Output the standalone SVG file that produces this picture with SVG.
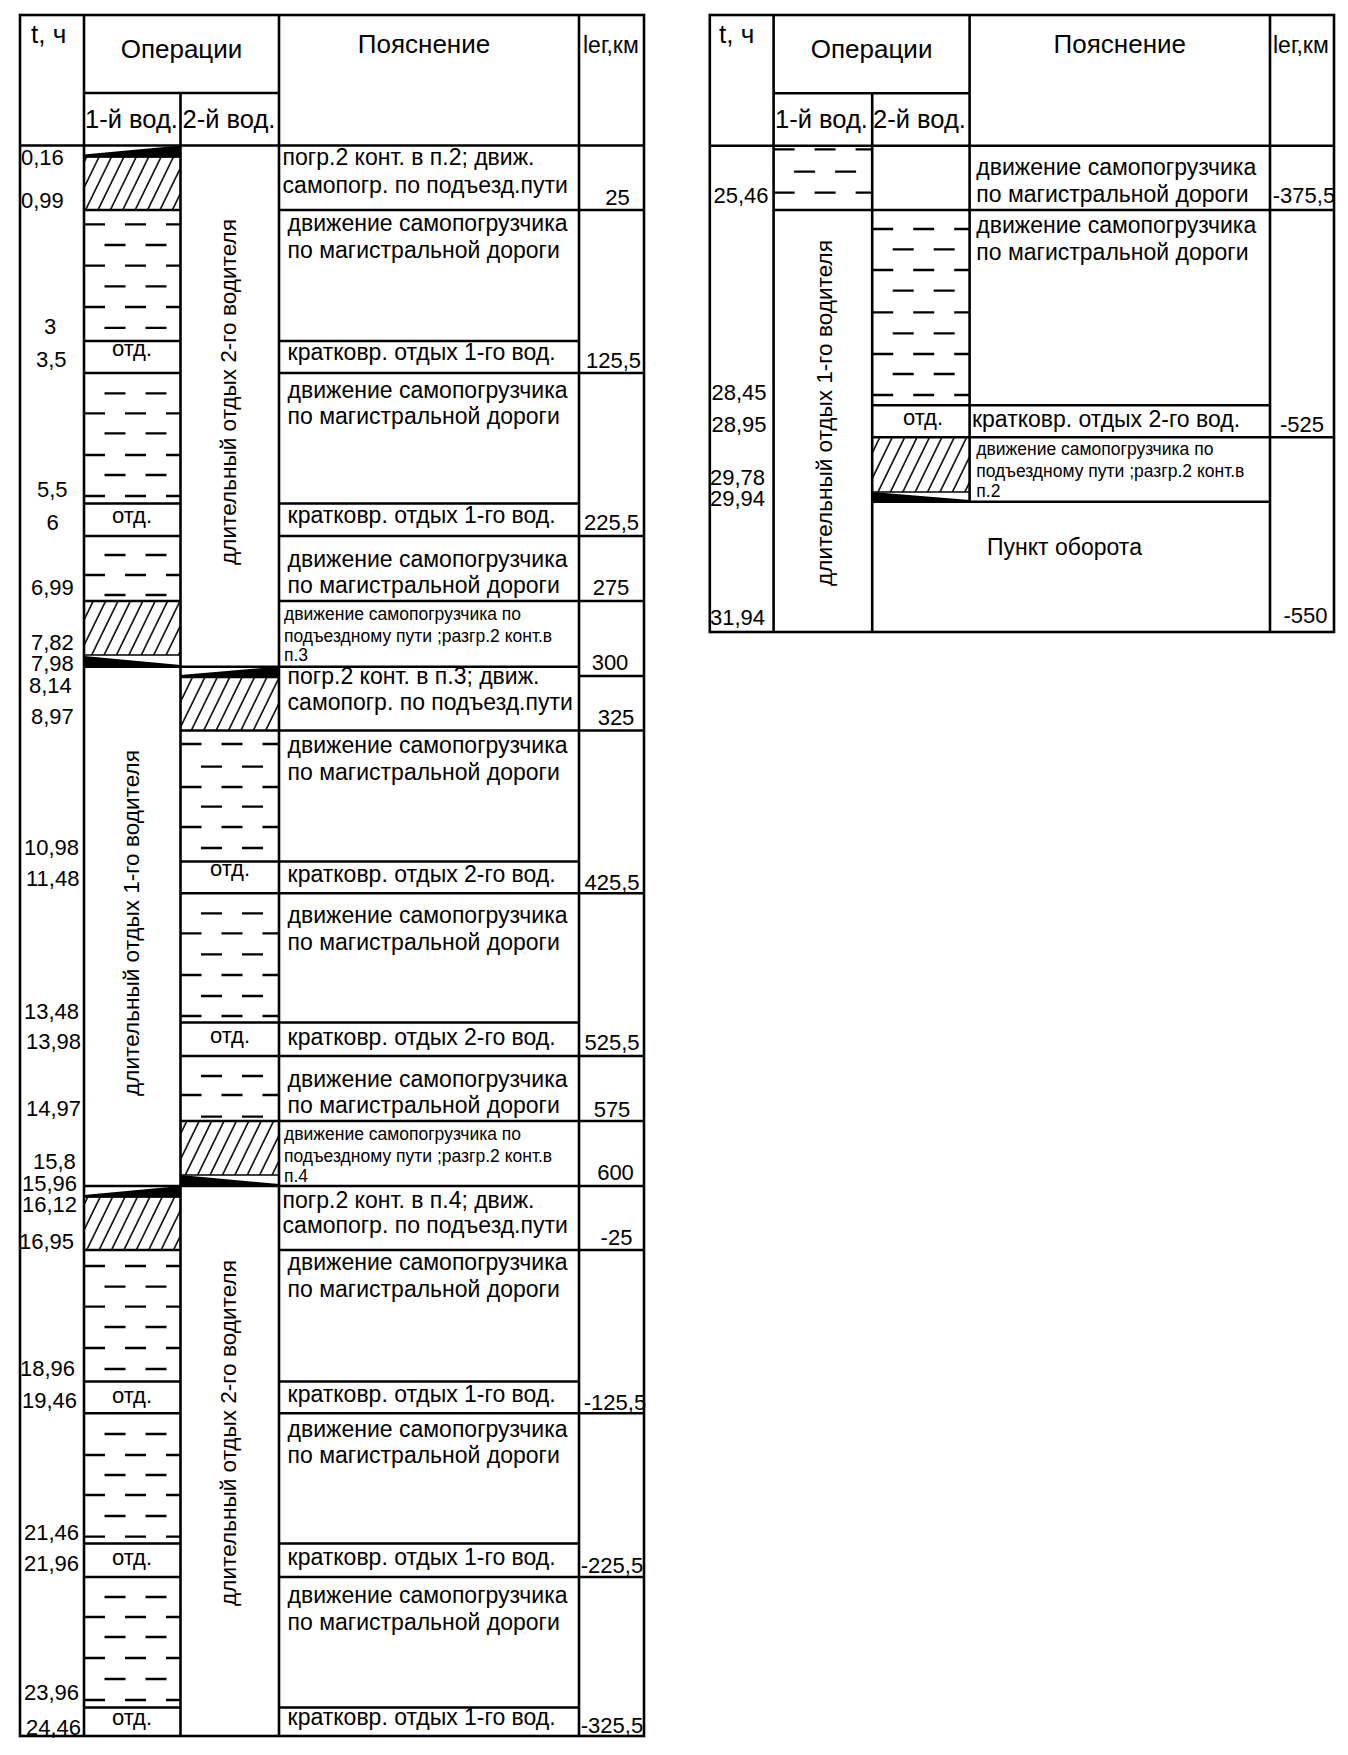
<svg xmlns="http://www.w3.org/2000/svg" width="1348" height="1755" viewBox="0 0 1348 1755">
<style>
.ln{stroke:#000;stroke-width:2.6;fill:none}
.th{stroke:#000;stroke-width:1.6;fill:none}
.dA{stroke:#000;stroke-width:2.3;stroke-dasharray:21 20}
.dB{stroke:#000;stroke-width:2.3;stroke-dasharray:21 20;stroke-dashoffset:20.5}
.t{font-family:"Liberation Sans",Arial,sans-serif;fill:#000}
.hd{font-size:26px}
.hs{font-size:25.5px}
.e{font-size:23px}
.s{font-size:17.5px}
.n{font-size:22px}
.k{font-size:22px;text-anchor:middle}
.m{text-anchor:middle}
.rot{font-size:22.6px;text-anchor:middle}
.hatch{fill:url(#hatch)}
.wedge{fill:#000}
</style>
<defs>
<pattern id="hatch" patternUnits="userSpaceOnUse" width="12.4" height="20" patternTransform="skewX(-26)">
<line x1="2" y1="-1" x2="2" y2="21" stroke="#000" stroke-width="1.7"/>
</pattern>
</defs>
<rect width="1348" height="1755" fill="#fff"/>

<g id="left-table">
<g id="left-grid">
<rect x="20" y="15" width="624" height="1721" class="ln"/>
<path class="ln" d="M84 15V1736 M180.5 93V1736 M279 15V1736 M579 15V1736 M84 93H279 M20 145.5H644"/>
<path class="ln" d="M84 210H180.5 M279 210H644 M84 341H180.5 M279 341H579 M84 373H180.5 M279 373H644 M84 503.5H180.5 M279 503.5H579 M84 536H180.5 M279 536H644 M84 601H180.5 M279 601H644 M84 666.7H579 M180.5 677H279 M579 676H644 M180.5 730.5H644 M180.5 861.5H579 M180.5 893.3H644 M180.5 1022.5H579 M180.5 1056H644 M180.5 1121H644 M84 1186H644 M84 1250H180.5 M279 1250H644 M84 1381.5H180.5 M279 1381.5H579 M84 1413.3H180.5 M279 1413.3H644 M84 1543.5H180.5 M279 1543.5H579 M84 1577H180.5 M279 1577H644 M84 1707.5H180.5 M279 1707.5H579"/>
<path class="th" d="M84 157H180.5 M84 655H180.5 M180.5 1175H279 M84 1197H180.5"/>
</g>
<g id="left-hatch">
<rect x="84" y="157" width="96.5" height="53" class="hatch"/>
<rect x="84" y="601" width="96.5" height="54" class="hatch"/>
<rect x="180.5" y="677" width="98.5" height="53.5" class="hatch"/>
<rect x="180.5" y="1121" width="98.5" height="54" class="hatch"/>
<rect x="84" y="1197" width="96.5" height="53" class="hatch"/>
</g>
<g id="left-wedges">
<polygon class="wedge" points="84,154.5 180.5,145.5 180.5,157.5 84,157.5"/>
<polygon class="wedge" points="84,656 180.5,665 180.5,667 84,667"/>
<polygon class="wedge" points="180.5,675 279,666.5 279,677.5 180.5,677.5"/>
<polygon class="wedge" points="180.5,1175 279,1184 279,1186 180.5,1186"/>
<polygon class="wedge" points="84,1195 180.5,1186 180.5,1197.5 84,1197.5"/>
</g>
<g id="left-dashes">
<path class="dA" d="M84 224.3H180.5 M84 265.7H180.5 M84 307H180.5 M84 413.3H180.5 M84 455H180.5 M84 496H180.5 M84 575H180.5 M84 1266H180.5 M84 1306.7H180.5 M84 1348H180.5 M84 1455H180.5 M84 1495H180.5 M84 1536.7H180.5 M84 1617H180.5 M84 1658H180.5 M84 1700H180.5"/>
<path class="dB" d="M84 245H180.5 M84 286.4H180.5 M84 327.8H180.5 M84 393.3H180.5 M84 433.3H180.5 M84 475H180.5 M84 555H180.5 M84 595H180.5 M84 1286.7H180.5 M84 1327H180.5 M84 1369H180.5 M84 1434H180.5 M84 1475H180.5 M84 1516H180.5 M84 1597H180.5 M84 1637H180.5 M84 1679H180.5"/>
<path class="dA" d="M180.5 744H279 M180.5 787H279 M180.5 827H279 M180.5 933.3H279 M180.5 975H279 M180.5 1016H279 M180.5 1095H279"/>
<path class="dB" d="M180.5 766.7H279 M180.5 806.7H279 M180.5 848H279 M180.5 913.3H279 M180.5 954.3H279 M180.5 996H279 M180.5 1076H279 M180.5 1116.7H279"/>
</g>
<g id="left-header" class="t">
<text x="31" y="43" font-size="26">t, ч</text>
<text x="181.5" y="58" class="hd m">Операции</text>
<text x="424" y="53" class="hd m">Пояснение</text>
<text x="583" y="53" font-size="23">lег,км</text>
<text x="85" y="128" class="hs">1-й вод.</text>
<text x="182.5" y="128" class="hs">2-й вод.</text>
</g>
<g id="left-times" class="t n">
<text x="21" y="165">0,16</text>
<text x="21" y="208">0,99</text>
<text x="44" y="334">3</text>
<text x="36" y="367">3,5</text>
<text x="37" y="497">5,5</text>
<text x="46.5" y="530">6</text>
<text x="31" y="595">6,99</text>
<text x="31" y="650">7,82</text>
<text x="31" y="671">7,98</text>
<text x="29" y="693">8,14</text>
<text x="31" y="724">8,97</text>
<text x="24" y="855">10,98</text>
<text x="26" y="886">11,48</text>
<text x="24" y="1019">13,48</text>
<text x="26" y="1049">13,98</text>
<text x="26" y="1116">14,97</text>
<text x="33" y="1169">15,8</text>
<text x="22" y="1191">15,96</text>
<text x="22" y="1212">16,12</text>
<text x="19" y="1249">16,95</text>
<text x="20" y="1376">18,96</text>
<text x="22" y="1408">19,46</text>
<text x="24" y="1540">21,46</text>
<text x="24" y="1571">21,96</text>
<text x="24" y="1700">23,96</text>
<text x="26" y="1735">24,46</text>
</g>
<g id="left-ops" class="t">
<text x="132" y="356" font-size="22" class="m">отд.</text>
<text x="132" y="523" font-size="22" class="m">отд.</text>
<text x="230" y="876" font-size="22" class="m">отд.</text>
<text x="230" y="1043" font-size="22" class="m">отд.</text>
<text x="132" y="1403" font-size="22" class="m">отд.</text>
<text x="132" y="1565" font-size="22" class="m">отд.</text>
<text x="132" y="1725" font-size="22" class="m">отд.</text>
<text class="rot" transform="translate(235.5,392) rotate(-90)">длительный отдых 2-го водителя</text>
<text class="rot" transform="translate(139,923) rotate(-90)">длительный отдых 1-го водителя</text>
<text class="rot" transform="translate(235.5,1433) rotate(-90)">длительный отдых 2-го водителя</text>
</g>
<g id="left-notes" class="t e">
<text x="282.6" y="165">погр.2 конт. в п.2; движ.</text>
<text x="282.6" y="193">самопогр. по подъезд.пути</text>
<text x="287.6" y="231">движение самопогрузчика</text>
<text x="287.6" y="258">по магистральной дороги</text>
<text x="287.6" y="360">кратковр. отдых 1-го вод.</text>
<text x="287.6" y="398">движение самопогрузчика</text>
<text x="287.6" y="424">по магистральной дороги</text>
<text x="287.6" y="523">кратковр. отдых 1-го вод.</text>
<text x="287.6" y="567">движение самопогрузчика</text>
<text x="287.6" y="593">по магистральной дороги</text>
<text x="284" y="620" class="s">движение самопогрузчика по</text>
<text x="284" y="641.7" class="s">подъездному пути ;разгр.2 конт.в</text>
<text x="284" y="661" class="s">п.3</text>
<text x="287.6" y="684">погр.2 конт. в п.3; движ.</text>
<text x="287.6" y="710">самопогр. по подъезд.пути</text>
<text x="287.6" y="753">движение самопогрузчика</text>
<text x="287.6" y="780">по магистральной дороги</text>
<text x="287.6" y="882">кратковр. отдых 2-го вод.</text>
<text x="287.6" y="923">движение самопогрузчика</text>
<text x="287.6" y="950">по магистральной дороги</text>
<text x="287.6" y="1045">кратковр. отдых 2-го вод.</text>
<text x="287.6" y="1087">движение самопогрузчика</text>
<text x="287.6" y="1113">по магистральной дороги</text>
<text x="284" y="1140" class="s">движение самопогрузчика по</text>
<text x="284" y="1161.7" class="s">подъездному пути ;разгр.2 конт.в</text>
<text x="284" y="1182" class="s">п.4</text>
<text x="282.6" y="1208">погр.2 конт. в п.4; движ.</text>
<text x="282.6" y="1233">самопогр. по подъезд.пути</text>
<text x="287.6" y="1270">движение самопогрузчика</text>
<text x="287.6" y="1297">по магистральной дороги</text>
<text x="287.6" y="1402">кратковр. отдых 1-го вод.</text>
<text x="287.6" y="1437">движение самопогрузчика</text>
<text x="287.6" y="1463">по магистральной дороги</text>
<text x="287.6" y="1565">кратковр. отдых 1-го вод.</text>
<text x="287.6" y="1603">движение самопогрузчика</text>
<text x="287.6" y="1630">по магистральной дороги</text>
<text x="287.6" y="1725">кратковр. отдых 1-го вод.</text>
</g>
<g id="left-km" class="t k">
<text x="617.5" y="205">25</text>
<text x="613.5" y="368">125,5</text>
<text x="611.5" y="530">225,5</text>
<text x="611" y="595">275</text>
<text x="610" y="670">300</text>
<text x="616" y="725">325</text>
<text x="612" y="890">425,5</text>
<text x="612" y="1050">525,5</text>
<text x="612" y="1117">575</text>
<text x="615.5" y="1180">600</text>
<text x="616.5" y="1245">-25</text>
<text x="615" y="1410">-125,5</text>
<text x="612" y="1573">-225,5</text>
<text x="612" y="1733">-325,5</text>
</g>
</g>

<g id="right-table">
<g id="right-grid">
<rect x="709.8" y="15" width="624.2" height="617" class="ln"/>
<path class="ln" d="M773.6 15V632 M872.2 93.3V632 M969.6 15V501.7 M1270 15V632 M773.6 93.3H969.6 M709.8 145.7H1334 M773.6 210H1334 M872.2 405.3H1270 M872.2 437.3H1334 M872.2 501.7H1270"/>
<path class="th" d="M872.2 492H969.6"/>
</g>
<rect x="872.2" y="437.3" width="97.4" height="54.7" class="hatch"/>
<polygon class="wedge" points="872.2,492 969.6,500 969.6,502.5 872.2,502.5"/>
<g id="right-dashes">
<path class="dA" d="M773.6 149.3H872.2 M773.6 192.7H872.2 M872.2 229H969.6 M872.2 270H969.6 M872.2 312.3H969.6 M872.2 354H969.6 M872.2 395H969.6"/>
<path class="dB" d="M773.6 171.7H872.2 M872.2 249.3H969.6 M872.2 290.7H969.6 M872.2 333.3H969.6 M872.2 374H969.6"/>
</g>
<g id="right-header" class="t">
<text x="719" y="43" font-size="26">t, ч</text>
<text x="871.6" y="58" class="hd m">Операции</text>
<text x="1119.8" y="53" class="hd m">Пояснение</text>
<text x="1273" y="53" font-size="23">lег,км</text>
<text x="775" y="128" class="hs">1-й вод.</text>
<text x="873" y="128" class="hs">2-й вод.</text>
</g>
<g id="right-times" class="t n">
<text x="713.5" y="203">25,46</text>
<text x="711.5" y="400">28,45</text>
<text x="711.5" y="432">28,95</text>
<text x="710" y="485">29,78</text>
<text x="710" y="506">29,94</text>
<text x="710" y="625">31,94</text>
</g>
<g id="right-ops" class="t">
<text x="923" y="425" font-size="22" class="m">отд.</text>
<text class="rot" transform="translate(832,413) rotate(-90)">длительный отдых 1-го водителя</text>
</g>
<g id="right-notes" class="t e">
<text x="976.3" y="175">движение самопогрузчика</text>
<text x="976.3" y="202">по магистральной дороги</text>
<text x="976.3" y="233">движение самопогрузчика</text>
<text x="976.3" y="260">по магистральной дороги</text>
<text x="972" y="427">кратковр. отдых 2-го вод.</text>
<text x="976.3" y="455" class="s">движение самопогрузчика по</text>
<text x="976.3" y="476.7" class="s">подъездному пути ;разгр.2 конт.в</text>
<text x="976.3" y="497" class="s">п.2</text>
<text x="1064.5" y="555" class="m">Пункт оборота</text>
</g>
<g id="right-km" class="t k">
<text x="1304" y="203">-375,5</text>
<text x="1302" y="432">-525</text>
<text x="1305.5" y="623">-550</text>
</g>
</g>
</svg>
